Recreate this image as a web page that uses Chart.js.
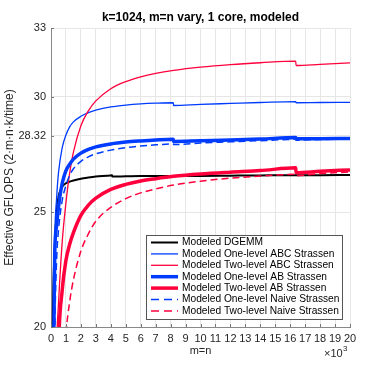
<!DOCTYPE html>
<html><head><meta charset="utf-8">
<script src="https://cdn.jsdelivr.net/npm/chart.js@4/dist/chart.umd.min.js"></script>
<style>html,body{margin:0;padding:0;background:#fff}</style>
</head><body>
<canvas id="c" width="387" height="369"></canvas>
<script>
// ---- data (x in thousands: m=n / 1000); null = no sample at that x for that series ----
const xVals    = [0.0625, 0.125, 0.25, 0.375, 0.5, 0.75, 1, 1.25, 1.5, 2, 2.5, 3, 4, 4.09, 4.1, 5, 6, 7, 8.18, 8.2, 10, 12, 14, 16.37, 16.39, 18, 20];
const dgemm    = [16, 20.5, 23.5, 25.0, 25.65, 26.1, 26.25, 26.32, 26.37, 26.45, 26.5, 26.54, 26.59, 26.6, 26.54, 26.55, 26.56, 26.56, null, 26.57, 26.57, 26.58, 26.59, null, 26.6, 26.6, 26.61];
const oneABC   = [10, 17, 23.8, 25.6, 26.7, 27.8, 28.35, 28.7, 28.92, 29.16, 29.32, 29.43, 29.57, null, null, 29.65, 29.7, 29.73, 29.75, 29.63, 29.68, 29.72, 29.76, 29.8, 29.75, 29.76, 29.77];
const twoABC   = [-5, 5, 14, 19.2, 21.0, 23.7, 25.4, 26.7, 27.6, 28.75, 29.4, 29.83, 30.36, null, null, 30.67, 30.88, 31.03, null, 31.16, 31.3, 31.41, 31.49, 31.56, 31.37, 31.42, 31.48];
const oneAB    = [8, 16, 23.2, 24.4, 25.2, 26.25, 26.8, 27.08, 27.3, 27.56, 27.72, 27.83, 27.96, null, null, 28.04, 28.09, 28.13, 28.16, 28.07, 28.1, 28.13, 28.17, 28.24, 28.18, 28.19, 28.2];
const twoAB    = [-10, 0, 8, 14, 19.0, 21.6, 22.9, 23.6, 24.1, 24.85, 25.3, 25.6, 25.98, null, null, 26.2, 26.35, 26.45, null, 26.55, 26.65, 26.73, 26.8, 26.92, 26.71, 26.77, 26.83];
const oneNaive = [0, 10, 19.5, 22.9, 24.2, 25.5, 26.15, 26.6, 26.88, 27.2, 27.4, 27.53, 27.69, null, null, 27.8, 27.87, 27.92, 27.96, 27.93, 28.0, 28.05, 28.1, 28.16, 28.12, 28.15, 28.18];
const twoNaive = [-30, -15, 0, 5, 10, 16, 19.6, 21.1, 22.05, 23.3, 24.05, 24.6, 25.2, null, null, 25.58, 25.83, 26.0, null, 26.17, 26.34, 26.47, 26.56, 26.64, 26.58, 26.67, 26.74];
const seriesNames = ['Modeled DGEMM', 'Modeled One-level ABC Strassen', 'Modeled Two-level ABC Strassen', 'Modeled One-level AB Strassen', 'Modeled Two-level AB Strassen', 'Modeled One-level Naive Strassen', 'Modeled Two-level Naive Strassen'];
const yTickVals = [20, 25, 28.32, 30, 33];
const xTickVals = [0,1,2,3,4,5,6,7,8,9,10,11,12,13,14,15,16,17,18,19,20];
const titleText = 'k=1024, m=n vary, 1 core, modeled';
const xTitle = 'm=n';
const yTitle = 'Effective GFLOPS (2\u00b7m\u00b7n\u00b7k/time)';

const BLUE = 'rgb(0,60,255)', RED = 'rgb(255,0,60)', BLACK = '#000';
const FONT = '"Liberation Sans", Arial, Helvetica, sans-serif';
const styles = [
  {c: BLACK, w: 2, d: []},
  {c: BLUE, w: 1.3, d: []},
  {c: RED, w: 1.3, d: []},
  {c: BLUE, w: 3.5, d: []},
  {c: RED, w: 3.5, d: []},
  {c: BLUE, w: 1.5, d: [7, 4]},
  {c: RED, w: 1.5, d: [7, 4]},
];
const allSeries = [dgemm, oneABC, twoABC, oneAB, twoAB, oneNaive, twoNaive];
const datasets = allSeries.map((arr, i) => ({
  label: seriesNames[i],
  data: arr.map((v, j) => ({x: xVals[j], y: v})),
  borderColor: styles[i].c,
  borderWidth: styles[i].w,
  borderDash: styles[i].d,
  pointRadius: 0,
  fill: false,
  spanGaps: true,
  cubicInterpolationMode: 'monotone',
  order: -i
}));

const overlay = {
  id: 'overlay',
  afterDraw(chart) {
    const {ctx, chartArea: a, scales: {x, y}} = chart;
    ctx.save();
    // inward tick marks
    ctx.strokeStyle = '#777'; ctx.lineWidth = 1;
    ctx.beginPath();
    xTickVals.forEach(v => { const px = Math.round(x.getPixelForValue(v)) + 0.5; ctx.moveTo(px, a.bottom); ctx.lineTo(px, a.bottom - 3); });
    yTickVals.forEach(v => { const py = Math.round(y.getPixelForValue(v)) + 0.5; ctx.moveTo(a.left, py); ctx.lineTo(a.left + 3, py); });
    ctx.stroke();
    // title
    ctx.fillStyle = '#000';
    ctx.font = 'bold 12px ' + FONT;
    ctx.textAlign = 'center'; ctx.textBaseline = 'middle';
    ctx.fillText(titleText, (a.left + a.right) / 2, 18);
    // x10^3
    ctx.fillStyle = '#262626';
    ctx.font = '11px ' + FONT;
    ctx.textAlign = 'left'; ctx.textBaseline = 'alphabetic';
    ctx.fillText('\u00d710', 324, 357);
    ctx.font = '8px ' + FONT;
    ctx.fillText('3', 343, 351);
    // legend
    const lx = 146.5, ly = 235.5, lw = 196, lh = 84;
    ctx.fillStyle = '#fff';
    ctx.fillRect(lx, ly, lw, lh);
    ctx.strokeStyle = '#555'; ctx.lineWidth = 1;
    ctx.strokeRect(lx, ly, lw, lh);
    ctx.font = '10.2px ' + FONT;
    ctx.textBaseline = 'middle';
    chart.data.datasets.forEach((ds, i) => {
      const cy = 242.5 + i * 11.4;
      ctx.strokeStyle = ds.borderColor;
      ctx.lineWidth = ds.borderWidth;
      ctx.setLineDash(ds.borderDash.length ? [8, 5] : []);
      ctx.beginPath(); ctx.moveTo(151, cy); ctx.lineTo(178, cy); ctx.stroke();
      ctx.setLineDash([]);
      ctx.fillStyle = '#000';
      ctx.fillText(ds.label, 182, cy);
    });
    ctx.restore();
  }
};

new Chart(document.getElementById('c'), {
  type: 'line',
  data: {datasets},
  options: {
    responsive: false,
    devicePixelRatio: 1,
    animation: false,
    layout: {padding: {left: 0, top: 28, right: 37, bottom: 0}},
    plugins: {legend: {display: false}, title: {display: false}, tooltip: {enabled: false}},
    scales: {
      x: {
        type: 'linear', min: 0, max: 20,
        afterBuildTicks: s => { s.ticks = xTickVals.map(v => ({value: v})); },
        afterFit: s => { s.height = 42; },
        ticks: {font: {size: 11, family: FONT}, color: '#262626', padding: 5, maxRotation: 0, autoSkip: false},
        grid: {color: '#e6e6e6', drawTicks: false},
        border: {color: '#888'},
        title: {display: true, text: xTitle, font: {size: 11, family: FONT}, color: '#262626', padding: {top: 0, bottom: 11}}
      },
      y: {
        type: 'linear', min: 20, max: 33,
        afterBuildTicks: s => { s.ticks = yTickVals.map(v => ({value: v})); },
        afterFit: s => { s.width = 51; },
        ticks: {font: {size: 11, family: FONT}, color: '#262626', padding: 5, callback: v => String(v)},
        grid: {color: '#e6e6e6', drawTicks: false},
        border: {color: '#888'},
        title: {display: true, text: yTitle, font: {size: 12, family: FONT}, color: '#262626', padding: {top: 2, bottom: 0}}
      }
    }
  },
  plugins: [overlay]
});
</script>
</body></html>
